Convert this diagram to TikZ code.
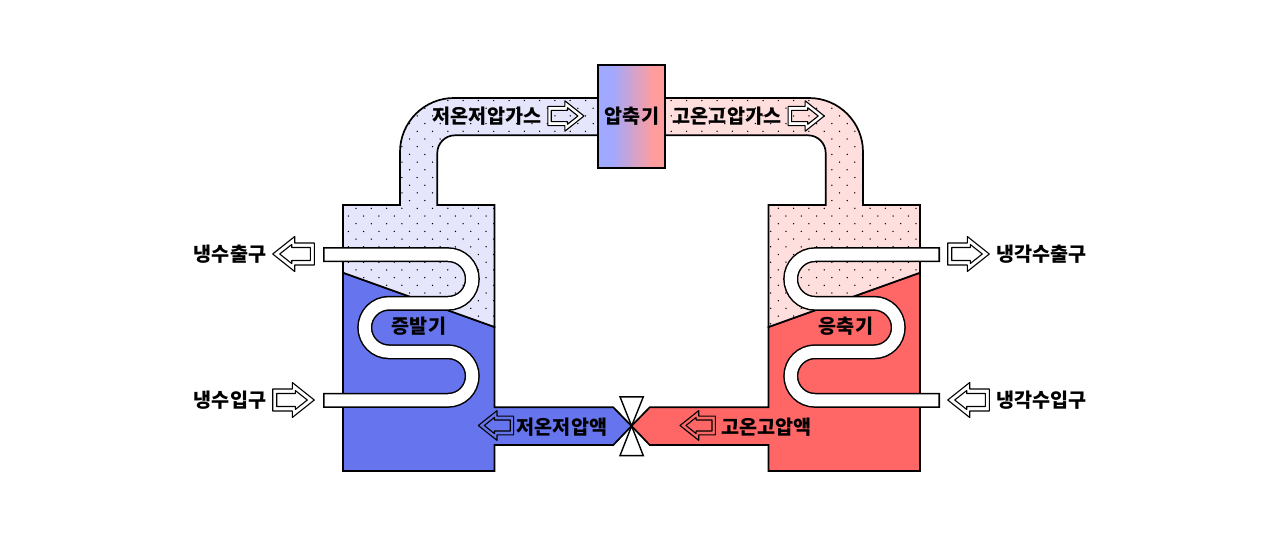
\documentclass[tikz,border=0pt]{standalone}
\usepackage{fontspec}
\setmainfont{Noto Sans CJK KR}
\usepackage{tikz}
\definecolor{liqblue}{HTML}{6675EE}
\definecolor{gasblue}{HTML}{E5E6FC}
\definecolor{liqred}{HTML}{FF6666}
\definecolor{gasred}{HTML}{FFDEDE}
\definecolor{compblue}{HTML}{A0A8FF}
\definecolor{compred}{HTML}{FF9D9D}
\pgfdeclarehorizontalshading{compshade}{100bp}{color(0bp)=(compblue); color(35bp)=(compblue);
  color(66bp)=(compred); color(100bp)=(compred)}
\tikzset{
  outline/.style={draw=black,line width=1.7pt},
  lbl/.style={font=\fontsize{19.6}{21}\selectfont\bfseries,inner sep=0pt,text=black},
}
\newcommand{\gaspath}{(343,205) -- (400,205) -- (400,152) arc[start angle=180,end angle=270,radius=54]
  -- (598,98) -- (598,135.3) -- (455,135.3) arc[start angle=270,end angle=180,radius=17.7]
  -- (437.3,205) -- (494.5,205) -- (494.5,327) -- (343,272.7) -- cycle}
\newcommand{\coilpath}[1]{(#1,254.7) -- (448,254.7) arc[start angle=-90,end angle=90,radius=24.3]
  -- (389,303.3) arc[start angle=-90,end angle=-270,radius=24.25]
  -- (448,351.8) arc[start angle=-90,end angle=90,radius=24.25] -- (#1,400.3)}
% tank, pipes and coil of one side
\newcommand{\halfcycle}[3]{
  \path [fill=#2,outline] (343,272.7) -- (494.5,327) -- (494.5,407.3) -- (613.3,407.3) -- (631.5,426)
     -- (613.3,445) -- (494.5,445) -- (494.5,471) -- (343,471) -- cycle;
  \path [fill=#1] \gaspath;
  \begin{scope}
    \clip \gaspath;
    \foreach \row in {0,...,30}
      \foreach \col in {-1,...,17}
        \fill ({340.7+mod(\row,2)*7.65+15.3*\col+#3},{100.5+7.7*\row}) circle [radius=.75pt];
  \end{scope}
  \path [outline] \gaspath;
  \draw [line width=15pt] \coilpath{323};
  \draw [line width=12pt,white] \coilpath{324.6};
}
% outlined flow arrow: tip at #1, #2 = 1 points left and -1 right, #3 = size, #4 = band colour
\newcommand{\flowarrow}[4]{
  \begin{scope}[shift={(#1)},xscale=#2,scale=#3]
    \draw [fill=#4,even odd rule,line width=1.1pt,line join=round]
      (0,0) -- (22,-17.5) -- (22,-11) -- (41.6,-11) -- (41.6,11) -- (22,11) -- (22,17.5) -- cycle
      (7,0) -- (19,-9.5) -- (19,-6.5) -- (37.6,-6.5) -- (37.6,6.5) -- (19,6.5) -- (19,9.5) -- cycle;
  \end{scope}
}

\begin{document}
\begin{tikzpicture}[x=1pt,y=-1pt]
  \useasboundingbox (0,0) rectangle (1280,536);

  \halfcycle{gasblue}{liqblue}{0}
  \begin{scope}[xshift=1263pt,xscale=-1]
    \halfcycle{gasred}{liqred}{6.3}
  \end{scope}

  % expansion valve
  \coordinate (valve) at (631.6,426);
  \draw [fill=white,line width=1.4pt] (valve) -- (620,396.8) -- (643.3,396.8) -- cycle;
  \draw [fill=white,line width=1.4pt] (valve) -- (620,455.6) -- (643.3,455.6) -- cycle;

  \node [outline,shading=compshade,minimum width=67pt,minimum height=103pt,
         inner sep=0pt] (comp) at (631.5,116.5) {};
  \node [lbl] (compname) at (632,116.5) {압축기};

  \flowarrow{272.7,254}{1}{1}{white}
  \flowarrow{314.3,400}{-1}{1}{white}
  \flowarrow{989.3,254}{-1}{1}{white}
  \flowarrow{947.7,400}{1}{1}{white}
  \flowarrow{584,116}{-1}{.87}{white}
  \flowarrow{824.3,116}{-1}{.87}{white}
  \flowarrow{478.3,425.5}{1}{.85}{liqblue}
  \flowarrow{680,425.5}{1}{.85}{liqred}

  \node [lbl] (coldout) at (230,254) {냉수출구};
  \node [lbl] (coldin) at (230,400) {냉수입구};
  \node [lbl] (coolout) at (1041.5,254) {냉각수출구};
  \node [lbl] (coolin) at (1041.5,400) {냉각수입구};
  \node [lbl] (lowgas) at (487,116) {저온저압가스};
  \node [lbl] (highgas) at (727,116) {고온고압가스};
  \node [lbl] (evap) at (419,326) {증발기};
  \node [lbl] (cond) at (846,326) {응축기};
  \node [lbl] (lowliq) at (562,427) {저온저압액};
  \node [lbl] (highliq) at (766.5,427) {고온고압액};
\end{tikzpicture}
\end{document}
